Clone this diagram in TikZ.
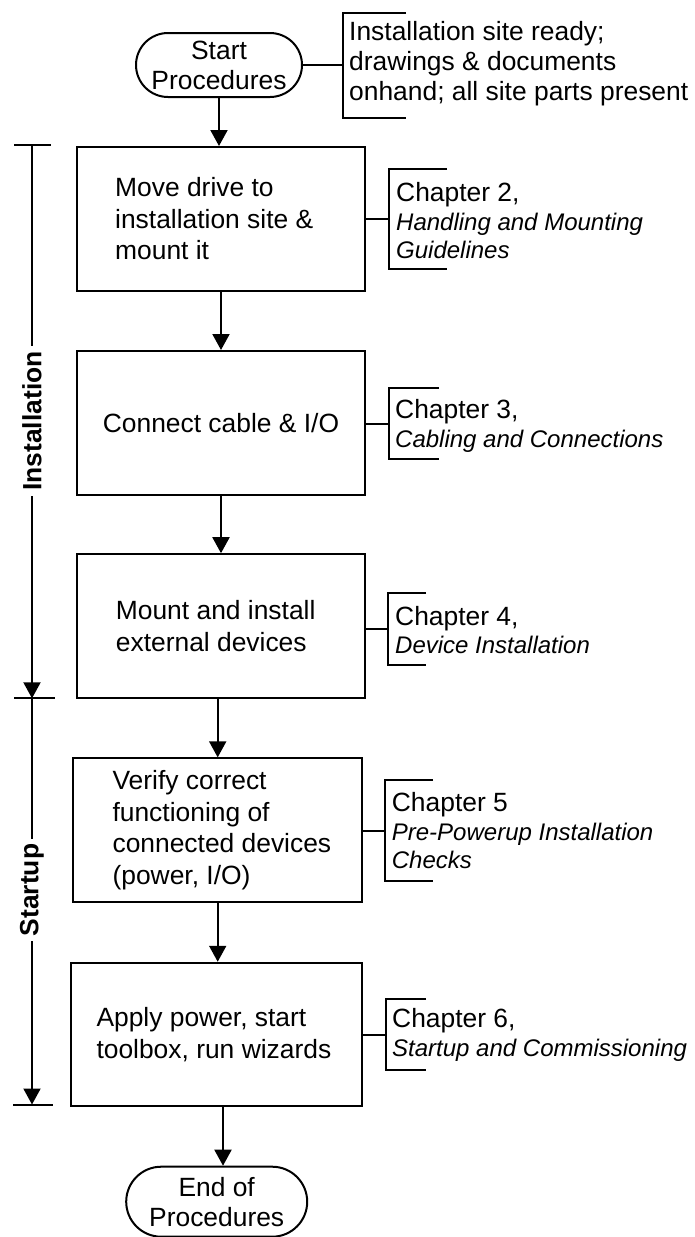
\documentclass[tikz,border=0pt]{standalone}
\usepackage{fontspec}
\setmainfont{Liberation Sans}
\usetikzlibrary{arrows.meta,calc}
% italic chapter titles are set a little smaller than the rest
\newcommand{\chaptitle}[1]{{\fontsize{24}{28.5}\selectfont\itshape #1}}
% open bracket round a note: midpoint, half height, tick length
\newcommand{\notebracket}[3]{%
  \draw[line] ($(#1)+(#3,-#2)$) -- ($(#1)+(0,-#2)$) -- ($(#1)+(0,#2)$) -- ($(#1)+(#3,#2)$);}
\begin{document}
\begin{tikzpicture}[x=1pt,y=-1pt,
  every node/.style={font=\fontsize{26.4}{31.5}\selectfont},
  line/.style={line width=2pt},
  flow/.style={line width=2pt,-{Triangle[length=16pt,width=17pt]}},
  box/.style={draw,line width=2pt,rectangle,inner sep=0pt},
  boxtext/.style={anchor=west,align=left,inner sep=0pt},
  term/.style={draw,line width=2pt,rectangle,align=center,inner sep=0pt,
    font=\fontsize{26.4}{30}\selectfont},
  note/.style={anchor=west,align=left,inner sep=0pt,
    font=\fontsize{26.4}{28.5}\selectfont},
  stage/.style={rotate=90,fill=white,inner sep=5pt,
    font=\fontsize{26.4}{30}\selectfont\bfseries},
]
\useasboundingbox (0,0) rectangle (694,1237);

% terminals
\node[term,minimum width=166pt,minimum height=64pt,rounded corners=32pt]
  (start) at (219,65) {Start\\Procedures};
\node[term,minimum width=181pt,minimum height=70pt,rounded corners=35pt]
  (end) at (216.7,1201.7) {End of\\Procedures};

% process steps
\node[box,minimum width=288.6pt,minimum height=144pt] (b1) at (221,219) {};
\node[boxtext] (t1) at ([xshift=39.3pt]b1.west)
  {Move drive to\\installation site \&\\mount it};
\node[box,minimum width=288.6pt,minimum height=144pt,align=center]
  (b2) at (221,423) {Connect cable \& I/O};
\node[box,minimum width=288.6pt,minimum height=144pt] (b3) at (221,626.2) {};
\node[boxtext] (t3) at ([xshift=40pt]b3.west)
  {Mount and install\\external devices};
\node[box,minimum width=288.7pt,minimum height=143.7pt] (b4) at (217.7,830.2) {};
\node[boxtext] (t4) at ([xshift=40pt]b4.west)
  {Verify correct\\functioning of\\connected devices\\(power, I/O)};
\node[box,minimum width=291pt,minimum height=143.3pt] (b5) at (216.5,1034.4) {};
\node[boxtext] (t5) at ([xshift=26.3pt]b5.west)
  {Apply power, start\\toolbox, run wizards};

% flow arrows
\draw[flow] (start.south) -- (start.south |- b1.north);
\draw[flow] (b1.south) -- (b2.north);
\draw[flow] (b2.south) -- (b3.north);
\draw[flow] (b3.south -| b4.north) -- (b4.north);
\draw[flow] (b4.south) -- (b4.south |- b5.north);
\draw[flow] ([xshift=6.5pt]b5.south) -- ([xshift=6.5pt]b5.south |- end.north);

% note brackets
\coordinate (k0) at (343,65.5);
\coordinate (k1) at (389,219);
\coordinate (k2) at (389,423.5);
\coordinate (k3) at (388,629);
\coordinate (k4) at (385,830.5);
\coordinate (k5) at (386,1034.5);
\notebracket{k0}{52.5}{63}
\notebracket{k1}{50}{58}
\notebracket{k2}{35.5}{50}
\notebracket{k3}{36}{38}
\notebracket{k4}{50.5}{48}
\notebracket{k5}{35.5}{40}

\draw[line] (start.east) -- (start.east -| k0);
\draw[line] (b1.east |- k1) -- (k1);
\draw[line] (b2.east |- k2) -- (k2);
\draw[line] (b3.east |- k3) -- (k3);
\draw[line] (b4.east |- k4) -- (k4);
\draw[line] (b5.east |- k5) -- (k5);

% notes
\node[note,font=\fontsize{26.4}{30}\selectfont] (n0) at (349,64)
  {Installation site ready;\\drawings \& documents\\onhand; all site parts present};
\node[note] (n1) at (396,221)
  {Chapter 2,\\\chaptitle{Handling and Mounting}\\\chaptitle{Guidelines}};
\node[note] (n2) at (395,426) {Chapter 3,\\\chaptitle{Cabling and Connections}};
\node[note] (n3) at (395,630) {Chapter 4,\\\chaptitle{Device Installation}};
\node[note] (n4) at (391.7,831)
  {Chapter 5\\\chaptitle{Pre-Powerup Installation}\\\chaptitle{Checks}};
\node[note] (n5) at (392,1035) {Chapter 6,\\\chaptitle{Startup and Commissioning}};

% stage bars
\coordinate (i0) at (32,145);
\coordinate (i1) at (32,698.3);
\coordinate (s1) at (32,1104.5);
\draw[flow] (i0) -- (i1);
\draw[flow] (i1) -- (s1);
\draw[line] ($(i0)+(-18,0)$) -- ($(i0)+(19,0)$);
\draw[line] ($(i1)+(-18,0)$) -- ($(i1)+(23,0)$);
\draw[line] ($(s1)+(-19,0)$) -- ($(s1)+(21,0)$);
\node[stage] (lbi) at (32,421) {Installation};
\node[stage] (lbs) at (32,890) {Startup};
\end{tikzpicture}
\end{document}
